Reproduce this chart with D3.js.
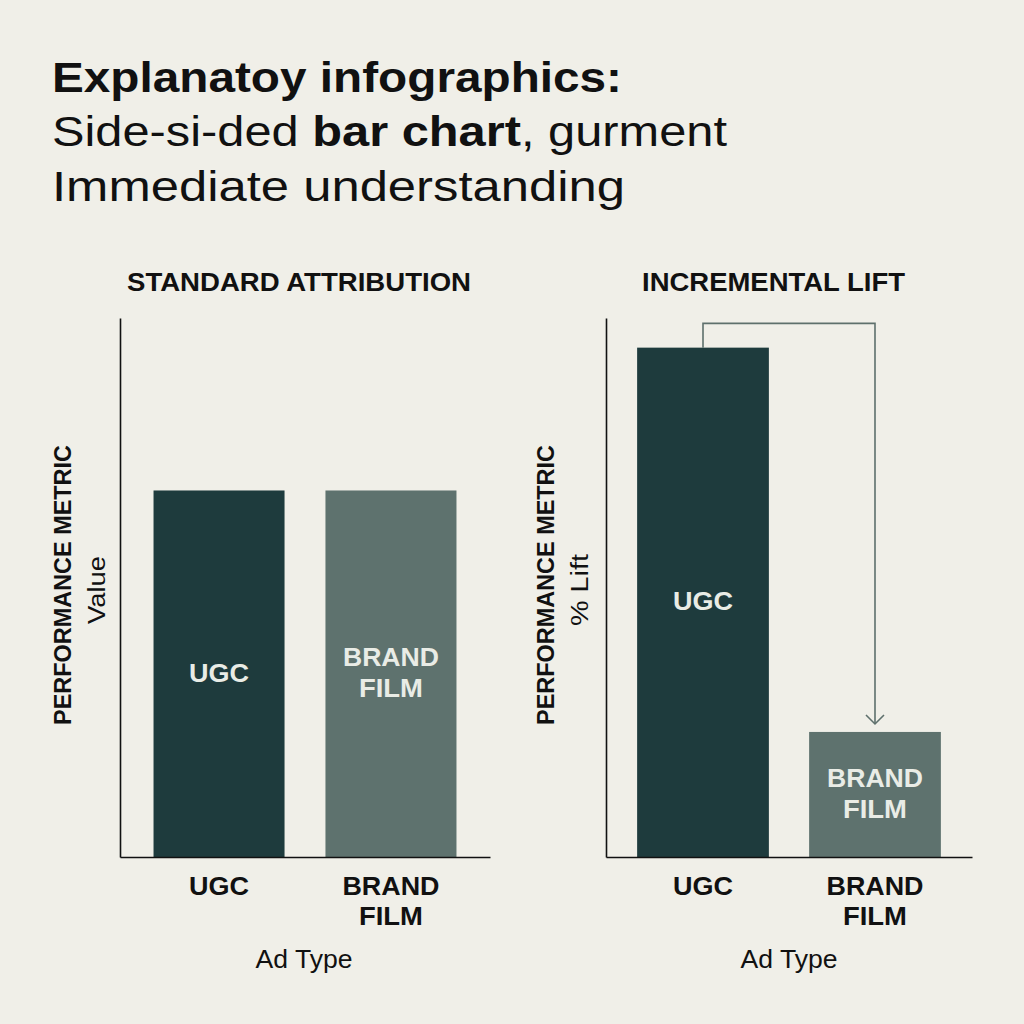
<!DOCTYPE html>
<html><head><meta charset="utf-8">
<script src="https://cdn.jsdelivr.net/npm/d3@7"></script>
<style>
html,body{margin:0;padding:0;background:#f0efe8;}
svg{display:block;font-family:"Liberation Sans",Arial,sans-serif;}
</style></head>
<body>
<svg id="c" width="1024" height="1024"></svg>
<script>
// ---- data ----
const categories = ["UGC", "BRAND FILM"];
const standardValues = [68, 68];
const liftValues = [94.5, 23.2];
const panelTitles = ["STANDARD ATTRIBUTION", "INCREMENTAL LIFT"];
const yTitles = ["Value", "% Lift"];
const titleLines = ["Explanatoy infographics:", "Side-si-ded |bar chart|, gurment", "Immediate understanding"];

const svg = d3.select("#c");
svg.append("rect").attr("width",1024).attr("height",1024).attr("fill","#f0efe8");

// Title
const tl = [
  {y:92, w:570, bold:true},
  {y:146, w:675, bold:false},
  {y:201, w:573, bold:false}
];
titleLines.forEach((line,i)=>{
  const t = svg.append("text").attr("x",52).attr("y",tl[i].y)
    .attr("font-size",43).attr("fill","#111")
    .attr("font-weight", tl[i].bold? "bold":"normal")
    .attr("textLength", tl[i].w).attr("lengthAdjust","spacingAndGlyphs");
  line.split("|").forEach((seg,j)=>{
    t.append("tspan").text(seg).attr("font-weight", (tl[i].bold || j%2===1) ? "bold":"normal");
  });
});

const colors = ["#1e3b3d", "#5e726e"];
const yScale = d3.scaleLinear().domain([0,100]).range([857,318]);

const panels = [
  {x0:120, x1:490, pi:0.238, po:0.195, values:standardValues, title:panelTitles[0], titleW:344, ylab:yTitles[0], ylabW:68, labX1:62, labX2:97, axisLabelX:304},
  {x0:606, x1:972, pi:0.234, po:0.181, values:liftValues, title:panelTitles[1], titleW:263, ylab:yTitles[1], ylabW:72, labX1:545, labX2:580, axisLabelX:789}
];

panels.forEach((p,pi)=>{
  const g = svg.append("g");
  const x = d3.scaleBand().domain(categories).range([p.x0,p.x1]).paddingInner(p.pi).paddingOuter(p.po);

  // panel title
  g.append("text").attr("x",(pi===0?299:773.5)).attr("y",291).attr("text-anchor","middle")
    .attr("font-size",25).attr("font-weight","bold").attr("fill","#111")
    .attr("textLength",p.titleW).attr("lengthAdjust","spacingAndGlyphs").text(p.title);

  // bars
  g.selectAll("rect.bar").data(categories).enter().append("rect")
    .attr("x",d=>x(d)).attr("width",x.bandwidth())
    .attr("y",(d,i)=>yScale(p.values[i]))
    .attr("height",(d,i)=>yScale(0)-yScale(p.values[i]))
    .attr("fill",(d,i)=>colors[i]);

  // inner labels
  categories.forEach((c,i)=>{
    const cx = x(c)+x.bandwidth()/2;
    const cy = (yScale(p.values[i])+yScale(0))/2;
    const words = c.split(" ");
    const lh = 31;
    words.forEach((w,k)=>{
      const yy = cy + (k-(words.length-1)/2)*lh + 8;
      g.append("text").attr("x",cx).attr("y",yy).attr("text-anchor","middle")
        .attr("font-size",25).attr("font-weight","bold").attr("fill","#e9ece6")
        .attr("textLength", w==="UGC"?60:(w==="BRAND"?96:64)).attr("lengthAdjust","spacingAndGlyphs")
        .text(w);
    });
  });

  // axes
  const yAxis = d3.axisLeft(yScale).tickValues([]).tickSizeOuter(0);
  g.append("g").attr("transform",`translate(${p.x0},0)`).call(yAxis)
    .select(".domain").attr("stroke","#111").attr("stroke-width",1.6);
  const xAxis = d3.axisBottom(x).tickSize(0).tickSizeOuter(0).tickFormat("");
  g.append("g").attr("transform",`translate(0,${yScale(0)})`).call(xAxis)
    .select(".domain").attr("stroke","#111").attr("stroke-width",1.6);

  // tick labels
  categories.forEach(c=>{
    const cx = x(c)+x.bandwidth()/2;
    c.split(" ").forEach((w,k)=>{
      g.append("text").attr("x",cx).attr("y",895+k*30).attr("text-anchor","middle")
        .attr("font-size",26).attr("font-weight","bold").attr("fill","#111")
        .attr("textLength", w==="UGC"?60:(w==="BRAND"?97:64)).attr("lengthAdjust","spacingAndGlyphs")
        .text(w);
    });
  });

  // x axis title
  g.append("text").attr("x",p.axisLabelX).attr("y",968).attr("text-anchor","middle")
    .attr("font-size",25).attr("fill","#111")
    .attr("textLength",97).attr("lengthAdjust","spacingAndGlyphs").text("Ad Type");

  // y axis titles
  g.append("text").attr("transform",`translate(${p.labX1+9},585) rotate(-90)`).attr("text-anchor","middle")
    .attr("font-size",24).attr("font-weight","bold").attr("fill","#111")
    .attr("textLength",280).attr("lengthAdjust","spacingAndGlyphs").text("PERFORMANCE METRIC");
  g.append("text").attr("transform",`translate(${p.labX2+8},590) rotate(-90)`).attr("text-anchor","middle")
    .attr("font-size",23).attr("fill","#111")
    .attr("textLength",p.ylabW).attr("lengthAdjust","spacingAndGlyphs").text(p.ylab);

  // connector arrow on lift panel
  if(pi===1){
    const xa = x(categories[0])+x.bandwidth()/2;
    const xb = x(categories[1])+x.bandwidth()/2;
    const topY = yScale(99);
    const endY = yScale(p.values[1]) - 8;
    g.append("path")
      .attr("d",`M${xa},${yScale(p.values[0])}V${topY}H${xb}V${endY}`)
      .attr("fill","none").attr("stroke","#5e706c").attr("stroke-width",1.6);
    g.append("path")
      .attr("d",`M${xb-9},${endY-9}L${xb},${endY}L${xb+9},${endY-9}`)
      .attr("fill","none").attr("stroke","#5e706c").attr("stroke-width",1.6);
  }
});
</script>
</body></html>
